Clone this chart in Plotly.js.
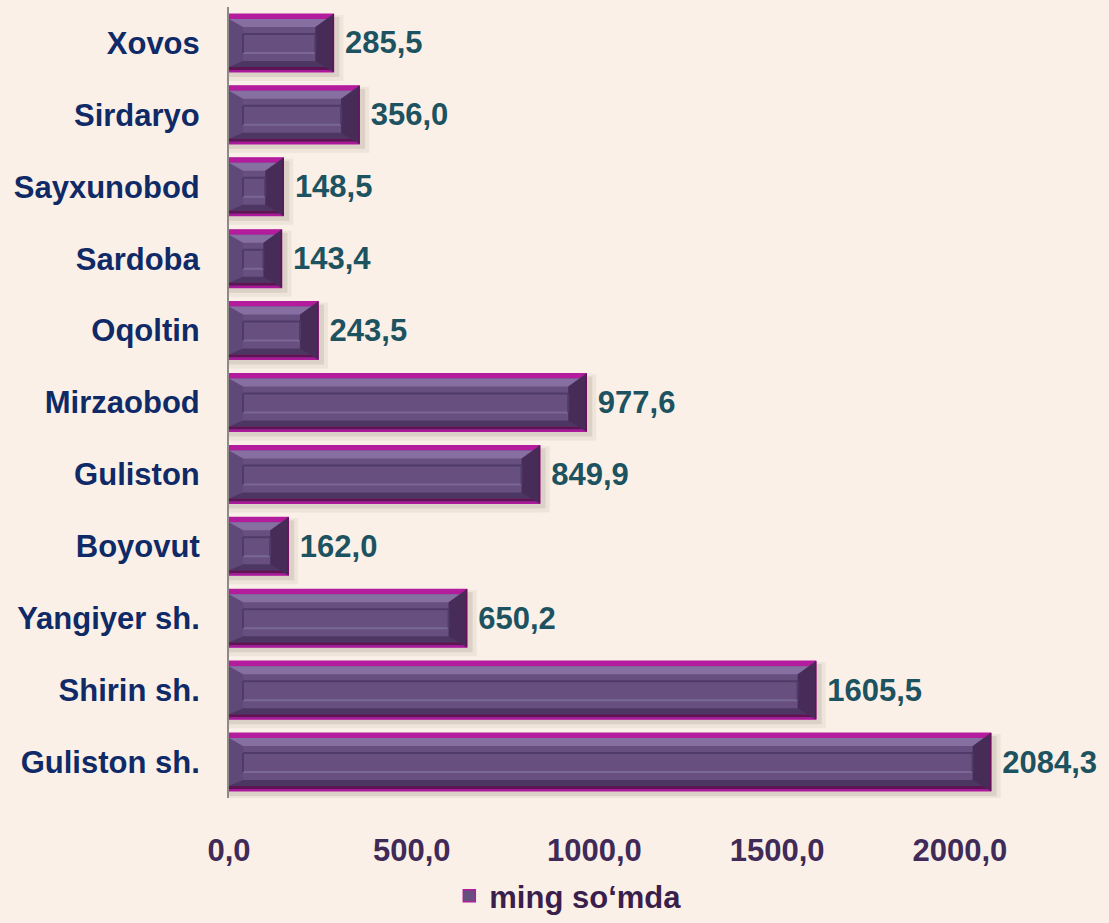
<!DOCTYPE html>
<html>
<head>
<meta charset="utf-8">
<script src="https://cdn.plot.ly/plotly-3.0.1.min.js"></script>
<style>html,body{margin:0;padding:0;background:#FAF0E7;}#chart{width:1109px;height:923px;}</style>
</head>
<body>
<div id="chart"></div>
<script>
// Data (bottom to top)
const categories = ['Guliston sh.', 'Shirin sh.', 'Yangiyer sh.', 'Boyovut', 'Guliston', 'Mirzaobod', 'Oqoltin', 'Sardoba', 'Sayxunobod', 'Sirdaryo', 'Xovos'];
const values = [2084.3, 1605.5, 650.2, 162.0, 849.9, 977.6, 243.5, 143.4, 148.5, 356.0, 285.5];
const xTickVals = [0, 500, 1000, 1500, 2000];
const xTickText = ['0,0', '500,0', '1000,0', '1500,0', '2000,0'];
const seriesName = 'ming so‘mda';

const FONT = '"Liberation Sans", Arial, sans-serif';
const H = 29;

function fmt(v) { return '\u00a0' + v.toFixed(1).replace('.', ','); }

const shapes = [];
function band(v, i, y0, y1, color, layer) {
  shapes.push({type: 'rect', layer: layer || 'above', xref: 'x', yref: 'y', x0: 0, x1: v,
    ysizemode: 'pixel', yanchor: i, y0: y0, y1: y1, fillcolor: color, line: {width: 0}});
}
function pathAt(xa, i, p, color, layer, line) {
  shapes.push({type: 'path', layer: layer || 'above', xref: 'x', yref: 'y',
    xsizemode: 'pixel', ysizemode: 'pixel', xanchor: xa, yanchor: i, path: p,
    fillcolor: color, line: line || {width: 0}});
}
values.forEach(function (v, i) {
  // soft shadow
  band(v, i, -H - 9, H - 1, 'rgba(90,70,55,0.07)', 'below');
  pathAt(v, i, 'M0,' + (-H - 9) + 'L10,' + (-H - 9) + 'L10,' + (H - 1) + 'L0,' + (H - 1) + 'Z', 'rgba(90,70,55,0.07)', 'below');
  band(v, i, -H - 5, H - 3, 'rgba(90,70,55,0.12)', 'below');
  pathAt(v, i, 'M0,' + (-H - 5) + 'L6,' + (-H - 5) + 'L6,' + (H - 3) + 'L0,' + (H - 3) + 'Z', 'rgba(90,70,55,0.12)', 'below');
  // top edge + bevel
  band(v, i, H - 5, H, '#B41C9E');
  band(v, i, H - 13, H - 5, '#8670A2');
  // bottom bevel + edge
  band(v, i, -H + 5, -H + 11, '#4C3762');
  band(v, i, -H + 2, -H + 5, '#5E1452');
  band(v, i, -H, -H + 2, '#A8189A');
  // inner rectangle horizontals
  band(v, i, 8, 10, '#4F3B67');
  band(v, i, -11, -9, '#7A6794');
  // left bevel
  pathAt(0, i, 'M0,' + (H - 5) + 'L14,' + (H - 13) + 'L14,' + (-H + 11) + 'L0,' + (-H + 5) + 'Z', '#5F4979');
  // right bevel
  pathAt(v, i, 'M0,' + H + 'L-18,' + (H - 13) + 'L-18,' + (-H + 11) + 'L0,' + (-H) + 'Z', '#472C58');
  pathAt(v, i, 'M0,' + H + 'L0,' + (-H), 'rgba(0,0,0,0)', 'above', {color: '#6A0F5C', width: 1.5});
  // inner rectangle verticals
  pathAt(0, i, 'M14,9L14,-10', 'rgba(0,0,0,0)', 'above', {color: '#4F3B67', width: 2});
  pathAt(v, i, 'M-18,9L-18,-10', 'rgba(0,0,0,0)', 'above', {color: '#4F3B67', width: 2});
});

const trace = {
  type: 'bar',
  orientation: 'h',
  y: categories,
  x: values,
  name: seriesName,
  width: 0.8,
  marker: {color: '#674F80', line: {color: '#B41C9E', width: 1.5}},
  text: values.map(fmt),
  textposition: 'outside',
  textfont: {family: FONT, size: 31, weight: 'bold', color: '#1D5260'},
  constraintext: 'none',
  cliponaxis: false,
  hoverinfo: 'skip',
  showlegend: true
};

const layout = {
  width: 1109,
  height: 923,
  paper_bgcolor: '#FAF0E7',
  plot_bgcolor: 'rgba(0,0,0,0)',
  margin: {l: 229, r: 3, t: 7, b: 125, pad: 0},
  font: {family: FONT},
  showlegend: true,
  legend: {
    orientation: 'h', xref: 'container', yref: 'container',
    x: 0.512, xanchor: 'center', y: 0.0, yanchor: 'bottom',
    font: {family: FONT, size: 31, weight: 'bold', color: '#3A1E4C'},
    bgcolor: 'rgba(0,0,0,0)'
  },
  xaxis: {
    range: [0, 2400],
    tickvals: xTickVals,
    ticktext: xTickText,
    showgrid: false, zeroline: false, showline: false, ticks: '',
    ticklabelstandoff: 31,
    tickfont: {family: FONT, size: 31, weight: 'bold', color: '#402A58'},
    automargin: false,
    fixedrange: true
  },
  yaxis: {
    type: 'category',
    range: [-0.5, 10.5],
    showgrid: false, zeroline: false,
    showline: true, linecolor: '#8E8A86', linewidth: 2,
    ticks: '',
    ticklabelstandoff: 21,
    tickfont: {family: FONT, size: 31, weight: 'bold', color: '#0F2A66'},
    automargin: false,
    fixedrange: true
  },
  shapes: shapes
};

Plotly.newPlot('chart', [trace], layout, {displayModeBar: false, staticPlot: true});
</script>
</body>
</html>
